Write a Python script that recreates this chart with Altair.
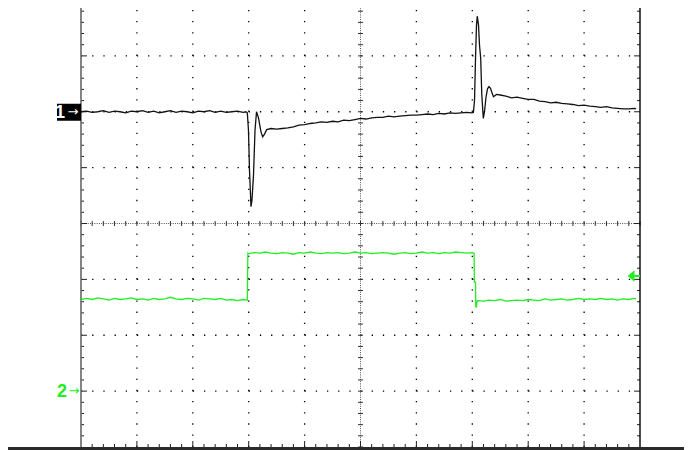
import altair as alt
import pandas as pd

# ---------------- data (time in screen divisions 0..10, level in divisions -4..4) ----------------
# Channel 1 (black trace)
ch1_flat_t = [i / 10 for i in range(30)] + [2.95]
ch1_flat_v = [2.00, 2.01, 1.99, 2.00, 2.02, 1.99, 2.01, 2.00, 1.98, 2.01,
              2.00, 2.02, 1.99, 2.01, 1.98, 2.00, 2.02, 1.99, 2.01, 2.00,
              1.98, 2.01, 2.00, 2.02, 1.99, 2.01, 1.99, 2.00, 2.01, 1.99, 2.00]
ch1_fall_t = [2.975, 2.996, 3.014, 3.041, 3.059, 3.086, 3.113, 3.140, 3.175, 3.220, 3.250, 3.283, 3.322]
ch1_fall_v = [1.98, 1.67, 0.96, 0.30, 0.42, 0.87, 1.67, 2.00, 1.89, 1.64, 1.55, 1.60, 1.68]
ch1_ramp_t = [3.4 + i / 10 for i in range(37)] + [7.02]
ch1_ramp_v = [1.70, 1.69, 1.70, 1.71, 1.73, 1.76, 1.77, 1.79, 1.80, 1.82,
              1.81, 1.83, 1.82, 1.85, 1.84, 1.86, 1.88, 1.87, 1.89, 1.90,
              1.90, 1.92, 1.91, 1.92, 1.93, 1.94, 1.94, 1.95, 1.96, 1.95,
              1.97, 1.96, 1.98, 1.97, 1.98, 1.99, 1.98, 1.99]
ch1_rise_t = [7.040, 7.057, 7.075, 7.089, 7.111, 7.129, 7.150, 7.170, 7.197,
              7.218, 7.245, 7.272, 7.299, 7.326, 7.352, 7.379, 7.433]
ch1_rise_v = [2.21, 2.93, 3.55, 3.71, 3.55, 3.19, 2.96, 2.30, 1.88,
              2.00, 2.26, 2.41, 2.45, 2.42, 2.34, 2.27, 2.31]
ch1_tail_t = [7.5 + i / 10 for i in range(25)] + [9.93]
ch1_tail_v = [2.30, 2.28, 2.25, 2.26, 2.24, 2.22, 2.22, 2.19, 2.18, 2.16,
              2.17, 2.15, 2.14, 2.13, 2.11, 2.12, 2.10, 2.09, 2.08, 2.09,
              2.07, 2.06, 2.05, 2.05, 2.06, 2.05]

# Channel 2 (green trace)
ch2_low1_t = [i / 10 for i in range(30)] + [2.97]
ch2_low1_v = [-1.36, -1.34, -1.36, -1.33, -1.35, -1.37, -1.34, -1.36, -1.35, -1.33,
              -1.36, -1.35, -1.37, -1.34, -1.36, -1.35, -1.32, -1.35, -1.36, -1.34,
              -1.35, -1.37, -1.34, -1.35, -1.36, -1.34, -1.37, -1.36, -1.38, -1.36, -1.37]
ch2_edge1_t = [2.975, 2.985]
ch2_edge1_v = [-1.37, -0.53]
ch2_high_t = [3.0 + i / 10 for i in range(41)] + [7.032]
ch2_high_v = [-0.54, -0.52, -0.53, -0.51, -0.53, -0.54, -0.52, -0.53, -0.55, -0.52,
              -0.53, -0.51, -0.53, -0.54, -0.52, -0.53, -0.52, -0.54, -0.53, -0.51,
              -0.53, -0.52, -0.54, -0.53, -0.52, -0.53, -0.55, -0.53, -0.52, -0.54,
              -0.53, -0.51, -0.53, -0.52, -0.54, -0.52, -0.53, -0.51, -0.52, -0.53,
              -0.52, -0.53]
ch2_edge2_t = [7.037, 7.058, 7.062, 7.075, 7.085]
ch2_edge2_v = [-1.05, -1.05, -1.49, -1.49, -1.39]
ch2_low2_t = [7.1 + i / 10 for i in range(29)] + [9.93]
ch2_low2_v = [-1.38, -1.39, -1.37, -1.38, -1.36, -1.39, -1.38, -1.37, -1.38, -1.36,
              -1.37, -1.38, -1.35, -1.37, -1.36, -1.35, -1.37, -1.36, -1.34, -1.36,
              -1.35, -1.36, -1.34, -1.36, -1.35, -1.37, -1.35, -1.36, -1.34, -1.35]

ch1_ground = 2.0
ch2_ground = -3.0
trigger_level = -0.94
trigger_pos = 9.84

X_DIVS = 10
Y_DIVS = 8
SUB = 5

# ---------------- build tables ----------------
ch1_t = ch1_flat_t + ch1_fall_t + ch1_ramp_t + ch1_rise_t + ch1_tail_t
ch1_v = ch1_flat_v + ch1_fall_v + ch1_ramp_v + ch1_rise_v + ch1_tail_v
ch2_t = ch2_low1_t + ch2_edge1_t + ch2_high_t + ch2_edge2_t + ch2_low2_t
ch2_v = ch2_low1_v + ch2_edge1_v + ch2_high_v + ch2_edge2_v + ch2_low2_v
df1 = pd.DataFrame({"t": ch1_t, "v": ch1_v, "i": range(len(ch1_t))})
df2 = pd.DataFrame({"t": ch2_t, "v": ch2_v, "i": range(len(ch2_t))})

xmin, xmax = 0, X_DIVS
ymin, ymax = -Y_DIVS // 2, Y_DIVS // 2
xs = alt.Scale(domain=[xmin, xmax], nice=False, zero=False)
ys = alt.Scale(domain=[ymin, ymax], nice=False, zero=False)


def X(f):
    return alt.X(f, type="quantitative", scale=xs, axis=None)


def Y(f):
    return alt.Y(f, type="quantitative", scale=ys, axis=None)


major_x = [k for k in range(xmin + 1, xmax) if k != 5]
major_y = [k for k in range(ymin + 1, ymax) if k != 0]
minor_x = [k / SUB for k in range(xmin * SUB + 1, xmax * SUB) if k % SUB]
minor_y = [k / SUB for k in range(ymin * SUB + 1, ymax * SUB) if k % SUB]
all_minor_x = [k / SUB for k in range(xmin * SUB, xmax * SUB + 1)]
all_minor_y = [k / SUB for k in range(ymin * SUB, ymax * SUB + 1)]
inner_major_x = list(range(xmin + 1, xmax))
inner_major_y = list(range(ymin + 1, ymax))

layers = []

# dotted major division lines
layers.append(alt.Chart(pd.DataFrame({"x": major_x, "y0": ymin, "y1": ymax}))
              .mark_rule(color="#000", strokeWidth=1.3, strokeDash=[1.3, 9.875])
              .encode(x=X("x"), y=Y("y0"), y2="y1"))
layers.append(alt.Chart(pd.DataFrame({"y": major_y, "x0": xmin, "x1": xmax}))
              .mark_rule(color="#000", strokeWidth=1.3, strokeDash=[1.3, 9.88])
              .encode(y=Y("y"), x=X("x0"), x2="x1"))

# centre cross: dense dots + ticks
layers.append(alt.Chart(pd.DataFrame({"x": [5], "y0": [ymin], "y1": [ymax]}))
              .mark_rule(color="#555", strokeWidth=1, strokeDash=[1, 1.236])
              .encode(x=X("x"), y=Y("y0"), y2="y1"))
layers.append(alt.Chart(pd.DataFrame({"y": [0], "x0": [xmin], "x1": [xmax]}))
              .mark_rule(color="#555", strokeWidth=1, strokeDash=[1, 1.236])
              .encode(y=Y("y"), x=X("x0"), x2="x1"))
layers.append(alt.Chart(pd.DataFrame({"x": all_minor_x, "y": 0}))
              .mark_rule(color="#333", strokeWidth=1, yOffset=-2.5, y2Offset=2.5)
              .encode(x=X("x"), y=Y("y"), y2="y"))
layers.append(alt.Chart(pd.DataFrame({"y": all_minor_y, "x": 5}))
              .mark_rule(color="#333", strokeWidth=1, xOffset=-2.5, x2Offset=2.5)
              .encode(y=Y("y"), x=X("x"), x2="x"))

# edge ticks (minor short, major longer)
for pos, length in ((minor_y, 3), (inner_major_y, 6)):
    for edge, sgn in ((xmin, 1), (xmax, -1)):
        layers.append(alt.Chart(pd.DataFrame({"y": pos, "x": edge}))
                      .mark_rule(color="#222", strokeWidth=1, x2Offset=sgn * length)
                      .encode(y=Y("y"), x=X("x"), x2="x"))
for pos, length in ((minor_x, 3), (inner_major_x, 6)):
    for edge, sgn in ((ymin, -1), (ymax, 1)):
        layers.append(alt.Chart(pd.DataFrame({"x": pos, "y": edge}))
                      .mark_rule(color="#222", strokeWidth=1, y2Offset=sgn * length)
                      .encode(x=X("x"), y=Y("y"), y2="y"))

# graticule border
layers.append(alt.Chart(pd.DataFrame({"x": [xmin], "y0": [ymin], "y1": [ymax]}))
              .mark_rule(color="#666", strokeWidth=1.6)
              .encode(x=X("x"), y=Y("y0"), y2="y1"))
layers.append(alt.Chart(pd.DataFrame({"x": [xmax], "y0": [ymin], "y1": [ymax]}))
              .mark_rule(color="#000", strokeWidth=1.4)
              .encode(x=X("x"), y=Y("y0"), y2="y1"))
# outer frame bottom band
layers.append(alt.Chart(pd.DataFrame({"a": [0]}))
              .mark_rule(color="#2a2a2a", strokeWidth=3)
              .encode(x=alt.value(-81), x2=alt.value(611), y=alt.value(448.5)))

# traces
layers.append(alt.Chart(df2).mark_line(color="#22ee22", strokeWidth=1.3, interpolate="linear")
              .encode(x=X("t"), y=Y("v"), order="i:Q"))
layers.append(alt.Chart(df1).mark_line(color="#111", strokeWidth=1.3, interpolate="linear")
              .encode(x=X("t"), y=Y("v"), order="i:Q"))

# channel markers
m1 = pd.DataFrame({"v": [ch1_ground]})
layers.append(alt.Chart(m1).mark_rect(color="#000", yOffset=-8, y2Offset=9)
              .encode(x=alt.value(-24), x2=alt.value(0), y=Y("v"), y2="v"))
layers.append(alt.Chart(m1).mark_text(text="1", color="#fff", font="Liberation Sans",
                                      fontWeight="bold", fontSize=18, align="right", baseline="middle", dy=1)
              .encode(x=alt.value(-16), y=Y("v")))
layers.append(alt.Chart(m1).mark_text(text="→", color="#fff", font="DejaVu Sans",
                                      fontSize=13, align="center", baseline="middle")
              .encode(x=alt.value(-8), y=Y("v")))

m2 = pd.DataFrame({"v": [ch2_ground]})
layers.append(alt.Chart(m2).mark_text(text="2", color="#22ee22", font="Liberation Sans",
                                      fontWeight="bold", fontSize=18, align="right", baseline="middle", dy=1)
              .encode(x=alt.value(-14), y=Y("v")))
layers.append(alt.Chart(m2).mark_text(text="→", color="#22ee22", font="DejaVu Sans",
                                      fontSize=13, align="center", baseline="middle")
              .encode(x=alt.value(-7), y=Y("v")))

# trigger level marker
mt = pd.DataFrame({"t": [trigger_pos], "t1": [xmax], "v": [trigger_level]})
layers.append(alt.Chart(mt).mark_rule(color="#22ee22", strokeWidth=2)
              .encode(x=X("t"), x2="t1", y=Y("v")))
layers.append(alt.Chart(mt).mark_point(shape="M-0.6,0L0.6,-1L0.6,1Z", size=130, filled=True,
                                       color="#22ee22", opacity=1)
              .encode(x=X("t"), y=Y("v")))

chart = alt.layer(*layers).properties(
    width=559, height=447,
    autosize=alt.AutoSizeParams(type="none"),
    padding={"left": 73, "top": -8, "right": 44, "bottom": 3},
    background="white",
).configure_view(stroke=None)

chart.save("out.html", embed_options={"renderer": "svg", "actions": False})
